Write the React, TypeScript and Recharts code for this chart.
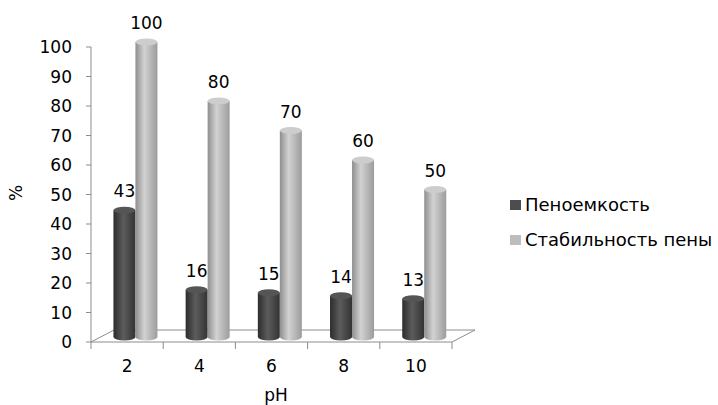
import React from "react";
import { BarChart, Bar, XAxis, YAxis, LabelList } from "recharts";

// pH values on the category axis
const phLevels = ["2", "4", "6", "8", "10"];
// Пеноемкость, %
const foamCapacity = [43, 16, 15, 14, 13];
// Стабильность пены, %
const foamStability = [100, 80, 70, 60, 50];
const yTicks = [0, 10, 20, 30, 40, 50, 60, 70, 80, 90, 100];

const seriesInfo = [
  { key: "capacity", name: "Пеноемкость", color: "#4d4d4d" },
  { key: "stability", name: "Стабильность пены", color: "#bdbdbd" },
];

const data = phLevels.map((ph, i) => ({
  ph,
  capacity: foamCapacity[i],
  stability: foamStability[i],
}));

const W = 718;
const H = 405;
const M = { top: 47, right: 266, bottom: 63, left: 91 };
const plotW = W - M.left - M.right;
const plotBottom = H - M.bottom;

// depth of the 3D floor and where the columns sit inside it
const DEPTH_X = 23;
const DEPTH_Y = -12;
const SHIFT_X = 8;
const SHIFT_Y = -5;
const FONT = "'DejaVu Sans', sans-serif";

const Cylinder = (props: any) => {
  const { x, y, width, height, gradId, topFill } = props;
  if (height <= 0) return null;
  const left = x + SHIFT_X;
  const top = y + SHIFT_Y;
  const bottom = top + height;
  const rx = width / 2;
  const ry = 3.5;
  const d = `M${left},${top} L${left},${bottom} A${rx},${ry} 0 0 0 ${left + width},${bottom} L${left + width},${top} Z`;
  return (
    <g>
      <path d={d} fill={`url(#${gradId})`} />
      <ellipse cx={left + rx} cy={top} rx={rx} ry={ry} fill={topFill} />
    </g>
  );
};

const ValueLabel = (props: any) => {
  const { x, y, width, value } = props;
  return (
    <text
      x={x + width / 2 + SHIFT_X}
      y={y + SHIFT_Y - 19}
      textAnchor="middle"
      dominantBaseline="central"
      fontFamily={FONT}
      fontSize={17}
      fill="#000"
    >
      {value}
    </text>
  );
};

const LegendBox = () => (
  <div
    style={{
      position: "absolute",
      left: 510,
      top: 187,
      fontFamily: FONT,
      fontSize: 18,
      color: "#000",
      whiteSpace: "nowrap",
    }}
  >
    {seriesInfo.map((item) => (
      <div key={item.name} style={{ display: "flex", alignItems: "center", height: 35 }}>
        <span style={{ width: 11, height: 10, background: item.color, marginRight: 4 }} />
        <span>{item.name}</span>
      </div>
    ))}
  </div>
);

// floor of the 3D plot, drawn underneath the chart
const Floor = () => {
  const x0 = M.left;
  const x1 = M.left + plotW;
  const y0 = plotBottom;
  const band = plotW / phLevels.length;
  const ticks = Array.from({ length: phLevels.length + 1 }, (_, i) => x0 + i * band);
  return (
    <svg width={W} height={H} style={{ position: "absolute", left: 0, top: 0 }}>
      <polygon
        points={`${x0},${y0} ${x0 + DEPTH_X},${y0 + DEPTH_Y} ${x1 + DEPTH_X},${y0 + DEPTH_Y} ${x1},${y0}`}
        fill="#fff"
        stroke="#8c8c8c"
        strokeWidth={1}
      />
      {ticks.map((tx) => (
        <line key={tx} x1={tx} y1={y0} x2={tx} y2={y0 + 7} stroke="#8c8c8c" />
      ))}
      <text x={276} y={401} textAnchor="middle" fontFamily={FONT} fontSize={17} fill="#000">
        pH
      </text>
      <text
        x={0}
        y={0}
        transform="translate(22,193) rotate(-90)"
        textAnchor="middle"
        fontFamily={FONT}
        fontSize={17}
        fill="#000"
      >
        %
      </text>
    </svg>
  );
};

export default function App() {
  return (
    <div style={{ position: "absolute", left: 0, top: 0, width: W, height: H, background: "#fff" }}>
      <Floor />
      <div style={{ position: "absolute", left: 0, top: 0 }}>
        <BarChart
          width={W}
          height={H}
          data={data}
          margin={{ top: M.top, right: M.right, bottom: M.bottom - 30, left: M.left - 60 }}
          barCategoryGap="20%"
          barGap={0}
        >
          <defs>
            <linearGradient id="darkCyl" x1="0" y1="0" x2="1" y2="0">
              <stop offset="0%" stopColor="#2c2c2c" />
              <stop offset="45%" stopColor="#5c5c5c" />
              <stop offset="100%" stopColor="#333" />
            </linearGradient>
            <linearGradient id="lightCyl" x1="0" y1="0" x2="1" y2="0">
              <stop offset="0%" stopColor="#8e8e8e" />
              <stop offset="40%" stopColor="#d2d2d2" />
              <stop offset="100%" stopColor="#9c9c9c" />
            </linearGradient>
          </defs>
          <XAxis
            dataKey="ph"
            height={30}
            axisLine={false}
            tickLine={false}
            tickSize={0}
            tickMargin={18}
            tick={{ fontFamily: FONT, fontSize: 17, fill: "#000" }}
          />
          <YAxis
            width={60}
            domain={[0, 100]}
            ticks={yTicks}
            interval={0}
            axisLine={{ stroke: "#8c8c8c" }}
            tickLine={{ stroke: "#8c8c8c" }}
            tickSize={5}
            tickMargin={14}
            tick={{ fontFamily: FONT, fontSize: 17, fill: "#000" }}
          />
          <Bar
            dataKey="capacity"
            name={seriesInfo[0].name}
            isAnimationActive={false}
            shape={<Cylinder gradId="darkCyl" topFill="#555" />}
          >
            <LabelList dataKey="capacity" content={<ValueLabel />} />
          </Bar>
          <Bar
            dataKey="stability"
            name={seriesInfo[1].name}
            isAnimationActive={false}
            shape={<Cylinder gradId="lightCyl" topFill="#cdcdcd" />}
          >
            <LabelList dataKey="stability" content={<ValueLabel />} />
          </Bar>
        </BarChart>
      </div>
      <LegendBox />
    </div>
  );
}
